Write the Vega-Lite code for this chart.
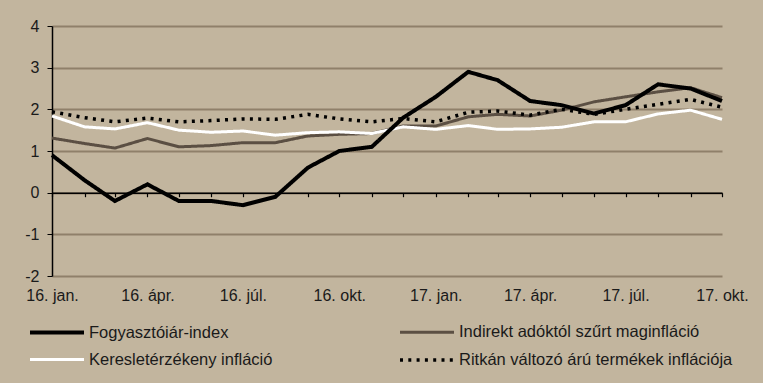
{
  "$schema": "https://vega.github.io/schema/vega-lite/v6.json",
  "width": 670,
  "height": 250,
  "autosize": {"type": "none"},
  "padding": {"left": 52, "top": 26, "right": 41, "bottom": 107},
  "background": "#c2b59e",
  "config": {
    "view": {"stroke": null},
    "font": "Liberation Sans"
  },
  "data": {
    "values": [
      {"date": "2016-01-01", "Fogyasztóiár-index": 0.9, "Indirekt adóktól szűrt maginfláció": 1.31, "Keresletérzékeny infláció": 1.84, "Ritkán változó árú termékek inflációja": 1.94},
      {"date": "2016-02-01", "Fogyasztóiár-index": 0.3, "Indirekt adóktól szűrt maginfláció": 1.18, "Keresletérzékeny infláció": 1.58, "Ritkán változó árú termékek inflációja": 1.80},
      {"date": "2016-03-01", "Fogyasztóiár-index": -0.2, "Indirekt adóktól szűrt maginfláció": 1.07, "Keresletérzékeny infláció": 1.53, "Ritkán változó árú termékek inflációja": 1.70},
      {"date": "2016-04-01", "Fogyasztóiár-index": 0.2, "Indirekt adóktól szűrt maginfláció": 1.30, "Keresletérzékeny infláció": 1.68, "Ritkán változó árú termékek inflációja": 1.79},
      {"date": "2016-05-01", "Fogyasztóiár-index": -0.2, "Indirekt adóktól szűrt maginfláció": 1.10, "Keresletérzékeny infláció": 1.50, "Ritkán változó árú termékek inflációja": 1.70},
      {"date": "2016-06-01", "Fogyasztóiár-index": -0.2, "Indirekt adóktól szűrt maginfláció": 1.13, "Keresletérzékeny infláció": 1.45, "Ritkán változó árú termékek inflációja": 1.73},
      {"date": "2016-07-01", "Fogyasztóiár-index": -0.3, "Indirekt adóktól szűrt maginfláció": 1.20, "Keresletérzékeny infláció": 1.48, "Ritkán változó árú termékek inflációja": 1.77},
      {"date": "2016-08-01", "Fogyasztóiár-index": -0.1, "Indirekt adóktól szűrt maginfláció": 1.20, "Keresletérzékeny infláció": 1.38, "Ritkán változó árú termékek inflációja": 1.76},
      {"date": "2016-09-01", "Fogyasztóiár-index": 0.6, "Indirekt adóktól szűrt maginfláció": 1.36, "Keresletérzékeny infláció": 1.44, "Ritkán változó árú termékek inflációja": 1.88},
      {"date": "2016-10-01", "Fogyasztóiár-index": 1.0, "Indirekt adóktól szűrt maginfláció": 1.40, "Keresletérzékeny infláció": 1.46, "Ritkán változó árú termékek inflációja": 1.77},
      {"date": "2016-11-01", "Fogyasztóiár-index": 1.1, "Indirekt adóktól szűrt maginfláció": 1.42, "Keresletérzékeny infláció": 1.42, "Ritkán változó árú termékek inflációja": 1.70},
      {"date": "2016-12-01", "Fogyasztóiár-index": 1.8, "Indirekt adóktól szűrt maginfláció": 1.60, "Keresletérzékeny infláció": 1.58, "Ritkán változó árú termékek inflációja": 1.78},
      {"date": "2017-01-01", "Fogyasztóiár-index": 2.3, "Indirekt adóktól szűrt maginfláció": 1.60, "Keresletérzékeny infláció": 1.52, "Ritkán változó árú termékek inflációja": 1.70},
      {"date": "2017-02-01", "Fogyasztóiár-index": 2.9, "Indirekt adóktól szűrt maginfláció": 1.82, "Keresletérzékeny infláció": 1.61, "Ritkán változó árú termékek inflációja": 1.93},
      {"date": "2017-03-01", "Fogyasztóiár-index": 2.7, "Indirekt adóktól szűrt maginfláció": 1.88, "Keresletérzékeny infláció": 1.52, "Ritkán változó árú termékek inflációja": 1.96},
      {"date": "2017-04-01", "Fogyasztóiár-index": 2.2, "Indirekt adóktól szűrt maginfláció": 1.84, "Keresletérzékeny infláció": 1.53, "Ritkán változó árú termékek inflációja": 1.86},
      {"date": "2017-05-01", "Fogyasztóiár-index": 2.1, "Indirekt adóktól szűrt maginfláció": 1.98, "Keresletérzékeny infláció": 1.57, "Ritkán változó árú termékek inflációja": 2.00},
      {"date": "2017-06-01", "Fogyasztóiár-index": 1.9, "Indirekt adóktól szűrt maginfláció": 2.18, "Keresletérzékeny infláció": 1.70, "Ritkán változó árú termékek inflációja": 1.88},
      {"date": "2017-07-01", "Fogyasztóiár-index": 2.1, "Indirekt adóktól szűrt maginfláció": 2.30, "Keresletérzékeny infláció": 1.70, "Ritkán változó árú termékek inflációja": 2.00},
      {"date": "2017-08-01", "Fogyasztóiár-index": 2.6, "Indirekt adóktól szűrt maginfláció": 2.42, "Keresletérzékeny infláció": 1.89, "Ritkán változó árú termékek inflációja": 2.12},
      {"date": "2017-09-01", "Fogyasztóiár-index": 2.5, "Indirekt adóktól szűrt maginfláció": 2.52, "Keresletérzékeny infláció": 1.98, "Ritkán változó árú termékek inflációja": 2.24},
      {"date": "2017-10-01", "Fogyasztóiár-index": 2.2, "Indirekt adóktól szűrt maginfláció": 2.28, "Keresletérzékeny infláció": 1.76, "Ritkán változó árú termékek inflációja": 2.05}
    ]
  },
  "transform": [
    {"fold": ["Indirekt adóktól szűrt maginfláció", "Keresletérzékeny infláció", "Ritkán változó árú termékek inflációja", "Fogyasztóiár-index"], "as": ["series", "value"]}
  ],
  "mark": {"type": "line"},
  "encoding": {
    "x": {
      "field": "date",
      "type": "temporal",
      "scale": {"type": "utc", "nice": false},
      "axis": {
        "title": null,
        "offset": -83.3,
        "grid": false,
        "domainColor": "#000000",
        "domainWidth": 1.5,
        "tickColor": "#000000",
        "tickWidth": 1.2,
        "tickSize": 4,
        "tickCount": {"interval": "month", "step": 1},
        "labelExpr": "utcmonth(datum.value) % 3 == 0 ? utcFormat(datum.value, '%y') + '. ' + ['jan.', 'ápr.', 'júl.', 'okt.'][utcmonth(datum.value) / 3] : ''",
        "labelPadding": 91,
        "labelFontSize": 16,
        "labelColor": "#1a1a1a",
        "labelFlush": false,
        "labelBound": false,
        "labelOverlap": false
      }
    },
    "y": {
      "field": "value",
      "type": "quantitative",
      "scale": {"domain": [-2, 4], "nice": false},
      "axis": {
        "title": null,
        "values": [-2, -1, 0, 1, 2, 3, 4],
        "labelExpr": "'' + datum.value",
        "gridColor": "#8f806a",
        "gridWidth": 2,
        "domainColor": "#000000",
        "domainWidth": 1.5,
        "tickColor": "#000000",
        "tickSize": 5,
        "labelPadding": 8,
        "labelFontSize": 16,
        "labelColor": "#1a1a1a"
      }
    },
    "color": {
      "field": "series",
      "type": "nominal",
      "scale": {
        "domain": ["Fogyasztóiár-index", "Keresletérzékeny infláció", "Indirekt adóktól szűrt maginfláció", "Ritkán változó árú termékek inflációja"],
        "range": ["#000000", "#ffffff", "#5b4f43", "#000000"]
      },
      "legend": {
        "orient": "none",
        "legendX": -10.5,
        "legendY": 291,
        "columns": 2,
        "title": null,
        "symbolType": "M-2,0H2",
        "symbolSize": 729,
        "labelFontSize": 16.5,
        "labelColor": "#1a1a1a",
        "labelOffset": 16.5,
        "columnPadding": 120,
        "rowPadding": 3.6,
        "padding": 0,
        "labelLimit": 400
      }
    },
    "strokeDash": {
      "field": "series",
      "type": "nominal",
      "scale": {
        "domain": ["Fogyasztóiár-index", "Keresletérzékeny infláció", "Indirekt adóktól szűrt maginfláció", "Ritkán változó árú termékek inflációja"],
        "range": [[1, 0], [1, 0], [1, 0], [3, 5.3]]
      }
    },
    "strokeWidth": {
      "field": "series",
      "type": "nominal",
      "scale": {
        "type": "ordinal",
        "domain": ["Fogyasztóiár-index", "Keresletérzékeny infláció", "Indirekt adóktól szűrt maginfláció", "Ritkán változó árú termékek inflációja"],
        "range": [4, 3, 3, 3.5]
      }
    }
  }
}
